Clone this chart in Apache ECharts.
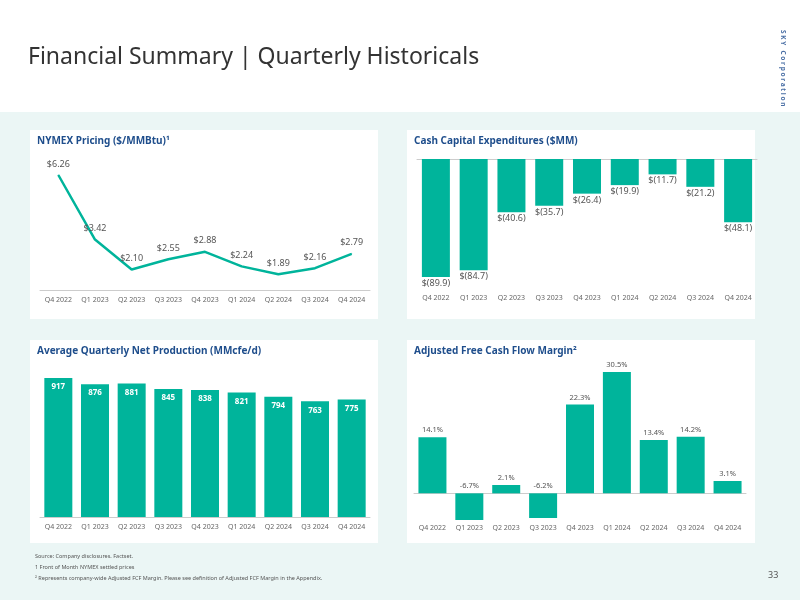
<!DOCTYPE html>
<html><head><meta charset="utf-8">
<script src="https://cdn.jsdelivr.net/npm/echarts@6/dist/echarts.min.js"></script>
<style>html,body{margin:0;padding:0;background:#fff}#c{width:800px;height:600px}</style>
</head><body><div id="c"></div>
<script>
var quarters = ['Q4 2022','Q1 2023','Q2 2023','Q3 2023','Q4 2023','Q1 2024','Q2 2024','Q3 2024','Q4 2024'];
var nymex = [6.26, 3.42, 2.10, 2.55, 2.88, 2.24, 1.89, 2.16, 2.79];
var capex = [-89.9, -84.7, -40.6, -35.7, -26.4, -19.9, -11.7, -21.2, -48.1];
var production = [917, 876, 881, 845, 838, 821, 794, 763, 775];
var fcfMargin = [14.1, -6.7, 2.1, -6.2, 22.3, 30.5, 13.4, 14.2, 3.1];

var green = '#00b49b';
var font = 'Noto Sans';
var axisLbl = {color: '#666', fontSize: 7, fontFamily: font};

function panel(x, y, w, h) {
  return {type: 'rect', shape: {x: x, y: y, width: w, height: h}, style: {fill: '#fff'}, z: -10};
}
function heading(x, y, t) {
  return {type: 'text', x: x, y: y, style: {text: t, fill: '#1f4e8c', font: 'bold 10px Noto Sans'}};
}

var chart = echarts.init(document.getElementById('c'));
chart.setOption({
  animation: false,
  textStyle: {fontFamily: font},
  graphic: [
    {type: 'rect', shape: {x: 0, y: 112, width: 800, height: 488}, style: {fill: '#ebf6f5'}, z: -20},
    panel(30, 130, 348, 189), panel(407, 130, 348, 189),
    panel(30, 340, 348, 203), panel(407, 340, 348, 203),
    {type: 'text', x: 28, y: 46, style: {text: 'Financial Summary | Quarterly Historicals', fill: '#333', font: '23px Noto Sans'}},
    {type: 'text', x: 786, y: 30, rotation: -Math.PI / 2, style: {text: 'S K Y   C o r p o r a t i o n', fill: '#4a6fa5', font: 'bold 6.5px Noto Sans'}},
    heading(37, 136, 'NYMEX Pricing ($/MMBtu)\u00b9'),
    heading(414, 136, 'Cash Capital Expenditures ($MM)'),
    heading(37, 346, 'Average Quarterly Net Production (MMcfe/d)'),
    heading(414, 346, 'Adjusted Free Cash Flow Margin\u00b2'),
    {type: 'text', x: 35, y: 553, style: {text: 'Source: Company disclosures. Factset.', fill: '#555', font: '5.5px Noto Sans'}},
    {type: 'text', x: 35, y: 564, style: {text: '1 Front of Month NYMEX settled prices', fill: '#555', font: '5.5px Noto Sans'}},
    {type: 'text', x: 35, y: 575, style: {text: '\u00b2 Represents company-wide Adjusted FCF Margin. Please see definition of Adjusted FCF Margin in the Appendix.', fill: '#555', font: '5.5px Noto Sans'}},
    {type: 'text', x: 768, y: 571, style: {text: '33', fill: '#555', font: '9px Noto Sans'}}
  ],
  grid: [
    {left: 40, width: 330, top: 175, height: 115},
    {left: 417, width: 340, top: 159, height: 118},
    {left: 40, width: 330, top: 378, height: 139},
    {left: 414, width: 332, top: 372, height: 148}
  ],
  xAxis: [
    {gridIndex: 0, type: 'category', data: quarters, axisTick: {show: false}, axisLine: {lineStyle: {color: '#ccc'}}, axisLabel: Object.assign({margin: 6}, axisLbl)},
    {gridIndex: 1, type: 'category', data: quarters, axisTick: {show: false}, axisLine: {show: false, onZero: false}, axisLabel: Object.assign({margin: 17}, axisLbl)},
    {gridIndex: 1, type: 'category', data: quarters, position: 'top', axisTick: {show: false}, axisLabel: {show: false}, axisLine: {lineStyle: {color: '#ccc'}}},
    {gridIndex: 2, type: 'category', data: quarters, axisTick: {show: false}, axisLine: {lineStyle: {color: '#ccc'}}, axisLabel: Object.assign({margin: 6}, axisLbl)},
    {gridIndex: 3, type: 'category', data: quarters, axisTick: {show: false}, axisLine: {show: false, onZero: false}, axisLabel: Object.assign({margin: 4}, axisLbl)},
    {gridIndex: 3, type: 'category', data: quarters, axisTick: {show: false}, axisLabel: {show: false}, axisLine: {onZero: true, lineStyle: {color: '#ccc'}}}
  ],
  yAxis: [
    {gridIndex: 0, type: 'value', min: 1.2, max: 6.26, show: false},
    {gridIndex: 1, type: 'value', min: -89.9, max: 0, show: false},
    {gridIndex: 2, type: 'value', min: 0, max: 917, show: false},
    {gridIndex: 3, type: 'value', min: -6.7, max: 30.5, show: false}
  ],
  series: [
    {type: 'line', xAxisIndex: 0, yAxisIndex: 0, data: nymex, symbol: 'circle', symbolSize: 1, showSymbol: true,
     itemStyle: {color: green}, lineStyle: {color: green, width: 2.5},
     label: {show: true, position: 'top', distance: 6, color: '#555', fontSize: 9, formatter: function (p) { return '$' + p.value.toFixed(2); }}},
    {type: 'bar', xAxisIndex: 1, yAxisIndex: 1, data: capex, barWidth: 28, itemStyle: {color: green},
     label: {show: true, position: 'bottom', distance: 2, color: '#555', fontSize: 9, formatter: function (p) { return '$(' + Math.abs(p.value).toFixed(1) + ')'; }}},
    {type: 'bar', xAxisIndex: 3, yAxisIndex: 2, data: production, barWidth: 28, itemStyle: {color: green},
     label: {show: true, position: 'insideTop', distance: 5, color: '#fff', fontSize: 8, fontWeight: 'bold'}},
    {type: 'bar', xAxisIndex: 5, yAxisIndex: 3, data: fcfMargin, barWidth: 28, itemStyle: {color: green},
     label: {show: true, position: 'top', color: '#555', fontSize: 7.5, distance: 3,
       formatter: function (p) { return p.value.toFixed(1) + '%'; }}}
  ]
});
</script></body></html>
